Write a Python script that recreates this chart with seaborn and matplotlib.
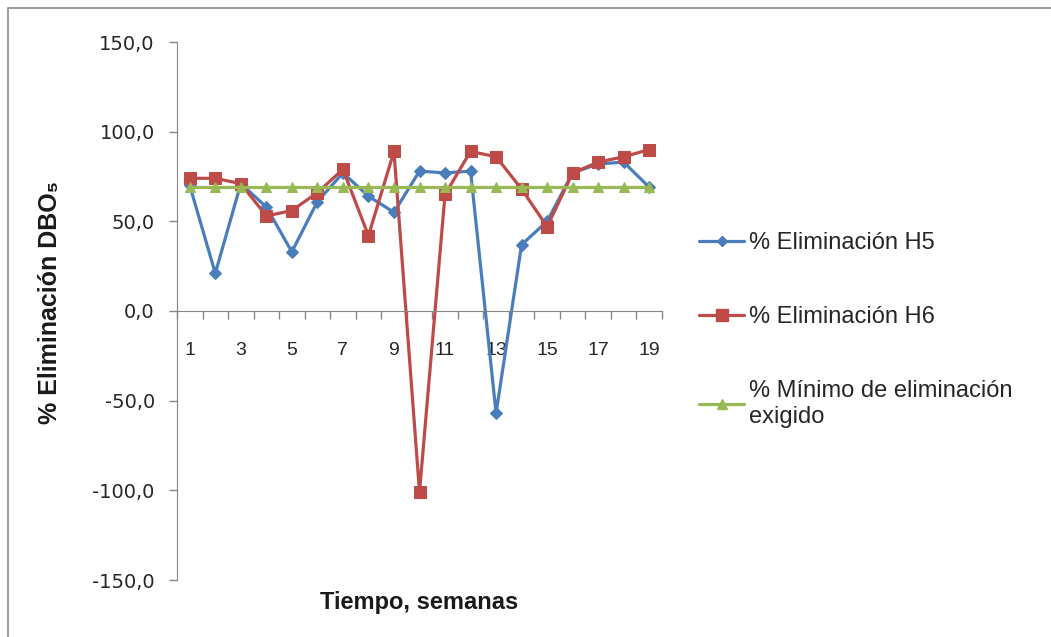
import pandas as pd
import matplotlib.pyplot as plt
import seaborn as sns
from matplotlib.patches import Rectangle
from matplotlib.lines import Line2D

# Data
weeks = list(range(1, 20))
h5 = [70, 21, 71, 58, 33, 61, 77, 64, 55, 78, 77, 78, -57, 37, 50, 77, 82, 83, 69]
h6 = [74, 74, 71, 53, 56, 66, 79, 42, 89, -101, 65, 89, 86, 68, 47, 77, 83, 86, 90]
minimo = [69] * 19

y_ticks = [150, 100, 50, 0, -50, -100, -150]
y_tick_labels = ['150,0', '100,0', '50,0', '0,0', '-50,0', '-100,0', '-150,0']
x_label_weeks = [1, 3, 5, 7, 9, 11, 13, 15, 17, 19]

labels = ['% Eliminación H5', '% Eliminación H6', '% Mínimo de eliminación\nexigido']
colors = ['#4A7EBB', '#BE4B48', '#98B954']
markers = ['D', 's', '^']
msizes = [6, 9, 7.5]

sns.set_style('white')
plt.rcParams['font.family'] = ['Liberation Sans', 'DejaVu Sans']

fig = plt.figure(figsize=(10.51, 6.37), dpi=100)
ax = fig.add_axes([177 / 1051, 1 - 580 / 637, (662 - 177) / 1051, (580 - 42) / 637])

series = [h5, h6, minimo]
for vals, lab, c, m, ms in zip(series, labels, colors, markers, msizes):
    df = pd.DataFrame({'semana': weeks, 'valor': vals})
    sns.lineplot(data=df, x='semana', y='valor', ax=ax, color=c, marker=m,
                 markersize=ms, markeredgecolor=c, linewidth=2.3, label=lab)

ax.set_xlim(0.5, 19.5)
ax.set_ylim(-150, 150)

# category boundaries as tick marks, odd weeks as labels
ax.set_xticks([w - 0.5 for w in weeks] + [19.5])
ax.set_xticks(x_label_weeks, minor=True)
ax.set_yticks(y_ticks)
ax.tick_params(axis='x', which='major', direction='out', length=6, width=1, color='#868686',
               bottom=True, labelbottom=False)
ax.tick_params(axis='x', which='minor', length=0, pad=22, labelsize=14, labelcolor='#262626')
ax.tick_params(axis='y', direction='out', length=6, width=1, color='#868686', left=True, pad=10,
               labelsize=14, labelcolor='#262626')
ax.set_xticklabels([str(w) for w in x_label_weeks], minor=True, family='DejaVu Sans')
ax.set_yticklabels(y_tick_labels, family='DejaVu Sans')

for s in ['top', 'right']:
    ax.spines[s].set_visible(False)
ax.spines['bottom'].set_position(('data', 0))
ax.spines['left'].set_color('#868686')
ax.spines['bottom'].set_color('#868686')

ax.set_xlabel('')
ax.set_ylabel('')
fig.text(419 / 1051, 1 - 602 / 637, 'Tiempo, semanas', ha='center', va='center',
         fontsize=17, fontweight='bold', color='#1a1a1a')
fig.text(50 / 1051, 1 - 302 / 637, '% Eliminación DBO₅', ha='center', va='center',
         rotation=90, fontsize=18, fontweight='bold', color='#1a1a1a')

ax.get_legend().remove()
handles = [Line2D([0], [0], color=c, marker=m, markersize=ms * 0.9, markeredgecolor=c, linewidth=2.3)
           for c, m, ms in zip(colors, markers, msizes)]
fig.legend(handles, labels, loc='upper left', bbox_to_anchor=(678 / 1051, 1 - 211 / 637),
           frameon=False, fontsize=17, labelspacing=2.2, handlelength=1.9, handletextpad=0.2,
           labelcolor='#262626')

# outer chart frame
fig.patches.append(Rectangle((8 / 1051, -0.01), 1.02, 1 - 8 / 637 + 0.01, transform=fig.transFigure,
                             fill=False, edgecolor='#8c8c8c', linewidth=1.2))

fig.savefig('out.png', dpi=100)
